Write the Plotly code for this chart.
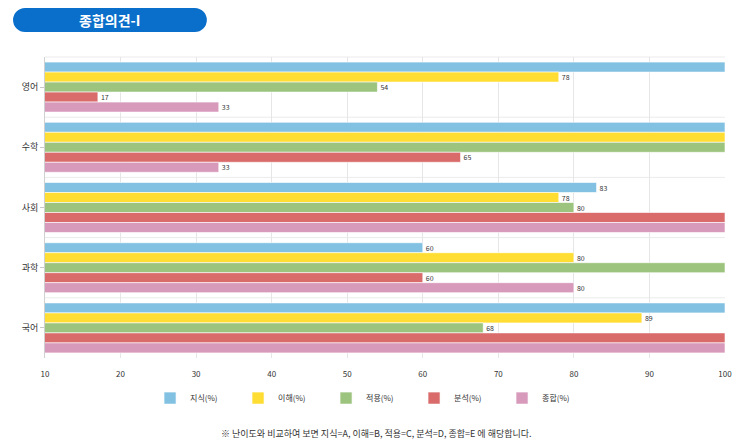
import plotly.graph_objects as go

categories = ["영어", "수학", "사회", "과학", "국어"]
series_names = ["지식(%)", "이해(%)", "적용(%)", "분석(%)", "종합(%)"]
knowledge = [100, 100, 83, 60, 100]
understanding = [78, 100, 78, 80, 89]
application = [54, 100, 80, 100, 68]
analysis = [17, 65, 100, 60, 100]
synthesis = [33, 33, 100, 80, 100]
x_ticks = [10, 20, 30, 40, 50, 60, 70, 80, 90, 100]
title_text = "종합의견-I"
footnote = "※ 난이도와 비교하여 보면 지식=A, 이해=B, 적용=C, 분석=D, 종합=E 에 해당합니다."

colors = ["#82C1E2", "#FFDD33", "#9DC47E", "#D96B6B", "#D79ABB"]
all_series = [knowledge, understanding, application, analysis, synthesis]

FONT = "Noto Sans CJK KR"
PILL = "#0A6FCB"

fig = go.Figure()
for name, vals, col in zip(series_names, all_series, colors):
    fig.add_trace(go.Bar(
        y=categories, x=vals, name=name, orientation="h",
        marker=dict(color=col, line=dict(color="rgba(255,255,255,0.6)", width=1)),
        text=[str(v) if v < 100 else "" for v in vals],
        textposition="outside",
        textfont=dict(size=7, color="#333333", family=FONT),
        cliponaxis=False,
    ))

shapes = []
for i in range(len(categories) - 1):
    shapes.append(dict(type="line", xref="paper", x0=0, x1=1, yref="y",
                       y0=i + 0.5, y1=i + 0.5,
                       line=dict(color="#EBEBEB", width=1), layer="below"))
shapes.append(dict(type="line", xref="paper", x0=0, x1=1, yref="paper",
                   y0=1, y1=1, line=dict(color="#EBEBEB", width=1), layer="below"))
# title pill: rect + two end circles
px0, px1 = -0.047, 0.238
py0, py1 = 1.083, 1.163
rx = 12 / 680
shapes.append(dict(type="rect", xref="paper", yref="paper",
                   x0=px0 + rx, x1=px1 - rx, y0=py0, y1=py1,
                   fillcolor=PILL, line=dict(width=0), layer="below"))
shapes.append(dict(type="circle", xref="paper", yref="paper",
                   x0=px0, x1=px0 + 2 * rx, y0=py0, y1=py1,
                   fillcolor=PILL, line=dict(width=0), layer="below"))
shapes.append(dict(type="circle", xref="paper", yref="paper",
                   x0=px1 - 2 * rx, x1=px1, y0=py0, y1=py1,
                   fillcolor=PILL, line=dict(width=0), layer="below"))

fig.update_layout(
    width=743, height=443,
    margin=dict(l=45, r=18, t=57, b=85),
    plot_bgcolor="white", paper_bgcolor="white",
    barmode="group", bargap=0.17, bargroupgap=0,
    font=dict(family=FONT, size=9, color="#333333"),
    xaxis=dict(range=[10, 100], tickvals=x_ticks, showgrid=True,
               gridcolor="#E6E6E6", zeroline=False, showline=False,
               tickfont=dict(size=8, color="#333333"), ticks="",
               ticklabelstandoff=10),
    yaxis=dict(autorange="reversed", showgrid=False, showline=True,
               linecolor="#D0D0D0", ticks="outside", ticklen=4,
               tickcolor="#C8C8C8", tickfont=dict(size=9, color="#333333")),
    legend=dict(orientation="h", x=0.478, xanchor="center", y=-0.085,
                yanchor="top", font=dict(size=8, color="#333333"),
                itemwidth=30, tracegroupgap=0, entrywidth=43),
    shapes=shapes,
    annotations=[
        dict(text="<b>" + title_text + "</b>", xref="paper", yref="paper",
             x=(px0 + px1) / 2, y=(py0 + py1) / 2, showarrow=False,
             xanchor="center", yanchor="middle",
             font=dict(size=14, color="white", family=FONT)),
        dict(text=footnote, xref="paper", yref="paper", x=0.487, y=-0.25,
             showarrow=False, yanchor="middle",
             font=dict(size=9, color="#333333", family=FONT)),
    ],
    showlegend=True,
)
fig.write_html("out.html")
